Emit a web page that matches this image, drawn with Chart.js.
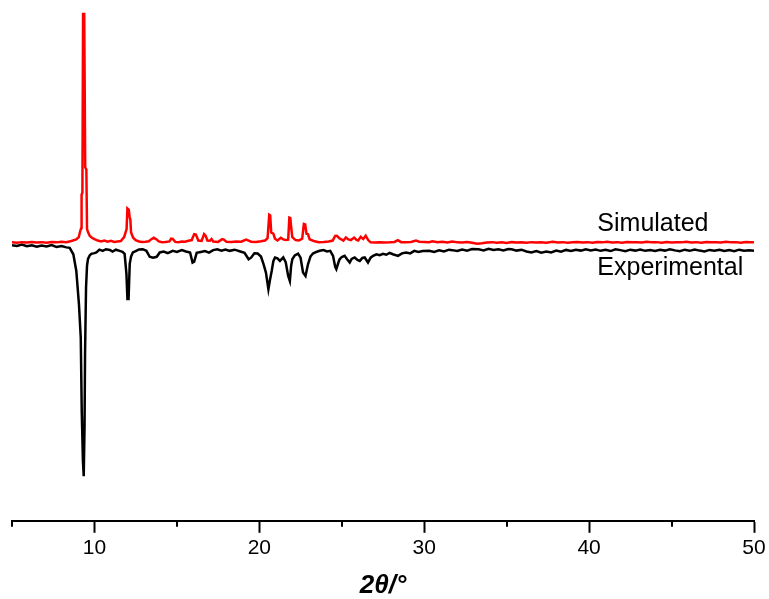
<!DOCTYPE html>
<html>
<head>
<meta charset="utf-8">
<script src="https://cdn.jsdelivr.net/npm/chart.js@4.4.0/dist/chart.umd.min.js"></script>
<style>
  body { margin: 0; background: #fff; }
  #wrap { width: 769px; height: 599px; }
</style>
</head>
<body>
<div id="wrap"><canvas id="xrd" width="769" height="599"></canvas></div>
<script>
// simulated pattern (offset upward, normalised so the strongest reflection = 100)
const simAngle = [
  5.0, 5.3, 5.6, 5.9, 6.2, 6.5, 6.8, 7.1, 7.4, 7.7, 8.0, 8.3, 8.6, 8.9, 9.05, 9.15, 9.2,
  9.22, 9.27, 9.31, 9.38, 9.44, 9.51, 9.55, 9.62, 9.72, 9.85, 10.0, 10.2, 10.4, 10.6, 10.8,
  11.0, 11.2, 11.4, 11.6, 11.8, 11.95, 12.0, 12.08, 12.13, 12.18, 12.22, 12.35, 12.5, 12.7,
  12.9, 13.1, 13.3, 13.45, 13.6, 13.75, 13.9, 14.1, 14.3, 14.55, 14.65, 14.75, 14.9, 15.1,
  15.3, 15.5, 15.7, 15.9, 16.05, 16.15, 16.3, 16.5, 16.65, 16.75, 16.85, 17.0, 17.1, 17.2,
  17.5, 17.75, 17.85, 18.0, 18.3, 18.6, 18.9, 19.2, 19.35, 19.5, 19.8, 20.1, 20.35, 20.5,
  20.6, 20.66, 20.72, 20.85, 20.95, 21.1, 21.3, 21.45, 21.6, 21.75, 21.82, 21.88, 21.93,
  22.0, 22.2, 22.4, 22.6, 22.7, 22.78, 22.86, 22.95, 23.05, 23.3, 23.6, 23.9, 24.2, 24.45,
  24.6, 24.7, 24.85, 25.0, 25.1, 25.25, 25.4, 25.55, 25.75, 25.9, 26.0, 26.15, 26.3, 26.45,
  26.6, 26.75, 27.0, 27.3, 27.6, 27.9, 28.2, 28.4, 28.6, 28.9, 29.2, 29.5, 29.7, 30.0, 30.3,
  30.5, 30.8, 31.1, 31.4, 31.7, 32.0, 32.3, 32.6, 32.9, 33.2, 33.5, 33.8, 34.1, 34.4, 34.7,
  35.0, 35.3, 35.6, 35.9, 36.2, 36.5, 36.8, 37.1, 37.4, 37.8, 38.1, 38.4, 38.7, 39.0, 39.3,
  39.6, 39.9, 40.2, 40.5, 40.8, 41.1, 41.4, 41.7, 42.0, 42.3, 42.6, 42.9, 43.2, 43.5, 43.8,
  44.1, 44.4, 44.7, 45.0, 45.3, 45.6, 45.9, 46.2, 46.5, 46.8, 47.1, 47.4, 47.7, 48.0, 48.3,
  48.6, 48.9, 49.2, 49.5, 49.8, 50.0
];
const simIntensity = [
  0.2, 0.0, 0.3, 0.1, 0.4, 0.1, 0.3, 0.0, 0.4, 0.2, 0.5, 0.3, 0.8, 1.5, 2.5, 5.5, 6.5,
  21, 22, 100, 100, 33, 32, 6, 4.5, 3, 2.2, 1.6, 1.0, 0.6, 1.0, 0.5,
  0.9, 0.4, 0.6, 0.8, 2.5, 6, 15, 14.5, 11.5, 10, 4.5, 2.2, 1.2, 0.6,
  0.4, 0.5, 0.7, 1.6, 2.2, 1.6, 0.6, 0.3, 0.4, 0.6, 1.8, 1.7, 0.4, 0.3,
  0.6, 0.5, 0.9, 1.2, 3.8, 3.6, 1.0, 0.8, 3.8, 3.0, 1.0, 0.9, 1.7, 0.6,
  0.4, 1.6, 1.4, 0.5, 0.4, 0.6, 0.5, 1.4, 1.0, 0.5, 0.4, 0.7, 1.0, 2.0,
  12.3, 12.0, 4.5, 4.0, 1.8, 1.0, 2.2, 1.5, 1.2, 1.4, 11, 10.8, 6.8,
  2.5, 1.2, 1.0, 1.8, 8.2, 8.0, 4.0, 3.8, 1.5, 0.8, 0.3, 0.4, 0.6, 1.0,
  3.0, 3.1, 2.0, 1.4, 1.0, 2.3, 1.5, 1.2, 2.3, 1.3, 1.0, 2.6, 1.7, 3.1,
  1.2, 0.2, 0.1, 0.3, 0.1, 0.2, 0.4, 1.2, 0.3, 0.3, 0.4, 1.0, 0.5, 0.4, 0.3,
  0.7, 0.3, 0.5, 0.2, 0.6, 0.2, 0.1, 0.4, 0.0, -0.4, -0.2, 0.1, 0.3, 0.0, 0.2,
  -0.1, 0.3, 0.1, 0.2, 0.0, 0.3, 0.1, 0.2, 0.0, 0.5, 0.1, 0.3, 0.0, 0.2, 0.4,
  0.1, 0.3, 0.0, 0.4, 0.2, 0.5, 0.1, 0.3, 0.0, 0.4, 0.2, 0.3, 0.1, 0.5, 0.2,
  0.3, 0.0, 0.4, 0.1, 0.3, 0.2, 0.5, 0.1, 0.3, 0.0, 0.4, 0.2, 0.3, 0.1, 0.5,
  0.2, 0.3, 0.0, 0.4, 0.2, 0.3
];

// measured pattern, plotted inverted below the simulated one
const expAngle = [
  5.0, 5.3, 5.6, 5.9, 6.2, 6.5, 6.8, 7.1, 7.4, 7.7, 8.0, 8.3, 8.5, 8.72, 8.9, 9.06, 9.17,
  9.23, 9.30, 9.35, 9.40, 9.43, 9.49, 9.55, 9.61, 9.71, 9.81, 10.0, 10.12, 10.3, 10.5, 10.7,
  10.93, 11.1, 11.3, 11.53, 11.7, 11.83, 11.94, 12.0, 12.07, 12.14, 12.22, 12.33, 12.5, 12.7,
  12.93, 13.15, 13.35, 13.55, 13.78, 13.96, 14.2, 14.45, 14.75, 15.0, 15.3, 15.55, 15.8,
  15.95, 16.05, 16.2, 16.45, 16.7, 16.95, 17.2, 17.45, 17.7, 17.95, 18.2, 18.5, 18.8, 19.1,
  19.35, 19.5, 19.7, 19.9, 20.1, 20.25, 20.4, 20.55, 20.65, 20.75, 20.85, 20.95, 21.1, 21.25,
  21.45, 21.6, 21.75, 21.85, 21.93, 22.0, 22.15, 22.35, 22.5, 22.65, 22.8, 22.95, 23.1,
  23.25, 23.45, 23.66, 23.9, 24.1, 24.3, 24.47, 24.6, 24.67, 24.8, 24.87, 25.0, 25.17, 25.3,
  25.48, 25.6, 25.78, 25.95, 26.09, 26.25, 26.39, 26.59, 26.75, 26.9, 27.1, 27.3, 27.5, 27.7,
  27.9, 28.1, 28.41, 28.65, 28.9, 29.15, 29.4, 29.65, 29.9, 30.3, 30.6, 30.9, 31.2, 31.5,
  31.7, 32.0, 32.3, 32.6, 32.9, 33.3, 33.6, 33.9, 34.2, 34.5, 34.8, 35.1, 35.3, 35.6, 35.9,
  36.2, 36.5, 36.8, 37.1, 37.4, 37.7, 38.0, 38.3, 38.6, 38.9, 39.2, 39.5, 39.8, 40.1, 40.4,
  40.7, 41.0, 41.3, 41.6, 41.9, 42.2, 42.5, 42.8, 43.1, 43.4, 43.7, 44.0, 44.3, 44.6, 44.9,
  45.2, 45.5, 45.8, 46.1, 46.4, 46.7, 47.0, 47.3, 47.6, 47.9, 48.2, 48.5, 48.8, 49.1, 49.4,
  49.7, 50.0
];
const expIntensity = [
  -1.0, -1.4, -0.8, -1.5, -1.1, -1.7, -1.2, -1.6, -1.0, -1.8, -1.4, -2.0, -2.2, -5, -12.3, -26.8, -41.5,
  -73.7, -95, -102, -80, -48.7, -19.6, -10, -7, -5.5, -4.8, -4.5, -4.2, -3.0, -3.5, -2.8,
  -3.1, -3.8, -3.0, -3.5, -3.9, -4.8, -13.6, -24.6, -24.6, -9.2, -6, -4.2, -3.6, -2.9,
  -2.8, -3.5, -6.1, -6.5, -6.1, -4.2, -3.8, -4.5, -3.5, -4.0, -3.2, -3.8, -4.2,
  -8.6, -8.2, -4.4, -4.0, -3.6, -4.3, -3.2, -2.8, -3.4, -2.9, -3.5, -3.0, -3.7, -4.4,
  -7.2, -6.5, -4.6, -4.7, -6.0, -9.2, -13, -20.3, -16, -12.3, -8, -6.4, -6.8, -7.9,
  -6.4, -8.5, -14.5, -16.7, -10, -7.2, -5.5, -4.7, -6.5, -13, -14.5, -9.4, -6.0,
  -4.7, -4.0, -3.5, -3.2, -3.8, -3.5, -5.7, -10.5, -11.5, -8.5, -7.2, -6.2, -5.7, -7.0,
  -8.6, -7.0, -6.4, -7.5, -7.9, -6.6, -6.4, -8.6, -6.5, -5.7, -5.0, -5.4, -4.8, -5.2,
  -4.4, -5.0, -5.7, -4.6, -4.2, -4.6, -3.5, -4.0, -3.6, -3.5, -4.0, -3.3, -3.8, -3.0,
  -3.2, -3.6, -2.9, -3.4, -2.7, -2.8, -3.3, -2.6, -3.1, -2.8, -3.3, -2.7, -2.8, -3.4, -3.0,
  -3.8, -4.2, -3.6, -4.3, -3.8, -4.2, -3.4, -3.9, -3.1, -3.6, -3.0, -3.4, -2.8, -3.3, -2.9,
  -3.5, -3.0, -3.6, -2.8, -3.2, -3.7, -3.0, -3.4, -2.9, -3.5, -3.1, -3.6, -3.0, -3.4, -2.8,
  -3.3, -3.7, -3.0, -3.5, -2.9, -3.4, -3.8, -3.1, -3.5, -3.0, -3.6, -3.2, -3.7, -3.0, -3.5,
  -3.3, -3.5
];

const majorTicks = [10, 20, 30, 40, 50];
const minorTicks = [5, 15, 25, 35, 45];

const FONT = '"Liberation Sans", Arial, sans-serif';

function toPoints(xs, ys) {
  return xs.map((x, i) => ({ x: x, y: ys[i] }));
}

// short minor ticks and the two curve names
const extras = {
  id: 'extras',
  afterDraw(chart) {
    const { ctx, scales: { x, y } } = chart;
    ctx.save();
    ctx.strokeStyle = '#000';
    ctx.lineWidth = 2;
    minorTicks.forEach(v => {
      const px = Math.round(x.getPixelForValue(v));
      ctx.beginPath();
      ctx.moveTo(px, x.top);
      ctx.lineTo(px, x.top + 6);
      ctx.stroke();
    });
    ctx.fillStyle = '#000';
    ctx.font = '25px ' + FONT;
    ctx.textAlign = 'left';
    ctx.textBaseline = 'alphabetic';
    ctx.fillText('Simulated', x.getPixelForValue(40.5), y.getPixelForValue(5.3));
    ctx.fillText('Experimental', x.getPixelForValue(40.5), y.getPixelForValue(-14));
    ctx.restore();
  }
};

new Chart(document.getElementById('xrd'), {
  type: 'line',
  data: {
    datasets: [
      {
        label: 'Simulated',
        data: toPoints(simAngle, simIntensity),
        borderColor: '#ff0000',
        borderWidth: 2.5,
        pointRadius: 0,
        tension: 0
      },
      {
        label: 'Experimental',
        data: toPoints(expAngle, expIntensity),
        borderColor: '#000000',
        borderWidth: 2.5,
        pointRadius: 0,
        tension: 0
      }
    ]
  },
  options: {
    responsive: false,
    animation: false,
    devicePixelRatio: 1,
    layout: { padding: { top: 9, left: 12, right: 15, bottom: 0 } },
    plugins: { legend: { display: false }, tooltip: { enabled: false } },
    scales: {
      x: {
        type: 'linear',
        min: 5,
        max: 50,
        border: { display: true, color: '#000', width: 2 },
        grid: {
          drawOnChartArea: false,
          drawTicks: true,
          tickLength: 12,
          tickWidth: 2,
          tickColor: c => (majorTicks.includes(c.tick.value) ? '#000' : 'rgba(0,0,0,0)')
        },
        ticks: {
          stepSize: 5,
          autoSkip: false,
          maxRotation: 0,
          padding: 3,
          color: '#000',
          font: { family: FONT, size: 21 },
          callback: v => (majorTicks.includes(v) ? String(v) : '')
        },
        title: {
          display: true,
          text: '2θ/°',
          color: '#000',
          font: { family: FONT, size: 26, weight: 'bold', style: 'italic', lineHeight: 1.0 },
          padding: { top: 9, bottom: 0 }
        }
      },
      y: {
        display: false,
        min: -121.5,
        max: 102.2
      }
    }
  },
  plugins: [extras]
});
</script>
</body>
</html>
